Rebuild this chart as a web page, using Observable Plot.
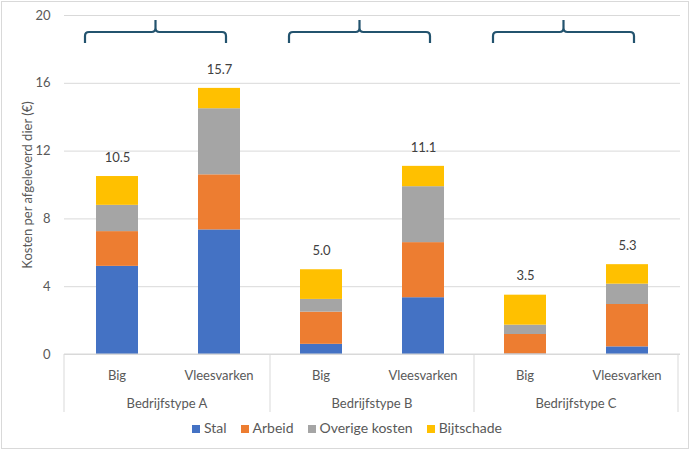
<!DOCTYPE html>
<html><head><meta charset="utf-8">
<script src="https://cdn.jsdelivr.net/npm/d3@7"></script>
<script src="https://cdn.jsdelivr.net/npm/@observablehq/plot@0.6"></script>
<style>
body{margin:0;background:#fff;font-family:Lato,"Open Sans",sans-serif;}
#wrap{position:relative;width:694px;height:454px;}
#frame{position:absolute;left:1px;top:1px;width:688px;height:448px;border:1px solid #d9d9d9;box-sizing:border-box;pointer-events:none;}
#legend{position:absolute;top:419px;left:0;width:694px;display:flex;justify-content:center;gap:14px;font-size:14px;color:#595959;}
#legend span.sw{display:inline-block;width:8px;height:8px;margin-right:4px;}
</style></head>
<body><div id="wrap"><div id="chart"></div><div id="legend"></div><div id="frame"></div></div>
<script>
const groups = ["Bedrijfstype A","Bedrijfstype B","Bedrijfstype C"];
const animals = ["Big","Vleesvarken"];
const series = ["Stal","Arbeid","Overige kosten","Bijtschade"];
const colors = ["#4472c4","#ed7d31","#a5a5a5","#ffc000"];
// values per bar, order: A-Big, A-Vlees, B-Big, B-Vlees, C-Big, C-Vlees
const stal    = [5.2, 7.35, 0.6, 3.35, 0.03, 0.45];
const arbeid  = [2.05, 3.25, 1.9, 3.25, 1.15, 2.5];
const overige = [1.55, 3.9, 0.75, 3.3, 0.55, 1.2];
const bijt    = [1.7, 1.2, 1.75, 1.2, 1.77, 1.15];
const totalLabels = ["10.5","15.7","5.0","11.1","3.5","5.3"];
const yTicks = [0,4,8,12,16,20];

const bars = [];
groups.forEach((g,gi)=>animals.forEach((a,ai)=>bars.push({group:g, animal:a, key:g+"|"+a, i:gi*2+ai})));
const values = [stal, arbeid, overige, bijt];
const long = [];
series.forEach((s,si)=>bars.forEach(b=>long.push({key:b.key, series:s, value:values[si][b.i]})));
const totals = bars.map(b=>({key:b.key, total:values.reduce((t,v)=>t+v[b.i],0), label:totalLabels[b.i]}));

const axisColor = "#d9d9d9", textColor = "#595959";

function categoryAxis(index, scales, vals, dim) {
  const x = scales.x, y = scales.y, bw = x.bandwidth(), step = x.step();
  const g = d3.create("svg:g");
  const y0 = y(0), yEnd = y0 + 58;
  g.append("line").attr("x1", dim.marginLeft).attr("x2", dim.width - dim.marginRight)
    .attr("y1", y0).attr("y2", y0).attr("stroke", axisColor);
  const bounds = [dim.marginLeft];
  groups.forEach(gr=>{
    bounds.push(x(gr+"|"+animals[animals.length-1]) + bw/2 + step/2);
  });
  bounds.forEach(bx=>g.append("line").attr("x1",bx).attr("x2",bx).attr("y1",y0).attr("y2",yEnd).attr("stroke",axisColor));
  bars.forEach(b=>{
    g.append("text").attr("x", x(b.key)+bw/2).attr("y", y0+21).attr("dy","0.35em")
      .attr("text-anchor","middle").attr("fill",textColor).text(b.animal);
  });
  groups.forEach((gr,gi)=>{
    g.append("text").attr("x",(bounds[gi]+bounds[gi+1])/2).attr("y", y0+49).attr("dy","0.35em")
      .attr("text-anchor","middle").attr("fill",textColor).text(gr);
  });
  return g.node();
}

function brackets(index, scales, vals, dim) {
  const x = scales.x, bw = x.bandwidth();
  const g = d3.create("svg:g").attr("fill","none").attr("stroke","#23536e").attr("stroke-width",2.2);
  const yH = dim.marginTop + 17, yEnd = yH + 11, yTip = yH - 12;
  groups.forEach(gr=>{
    const L = x(gr+"|"+animals[0]) - 11;
    const R = x(gr+"|"+animals[1]) + bw - 14;
    const T = (L+R)/2;
    g.append("path").attr("d",
      `M${L},${yEnd} L${L},${yH+4} Q${L},${yH} ${L+4},${yH} L${T-4},${yH} Q${T},${yH} ${T},${yH-4} L${T},${yTip}` +
      ` M${T},${yH-4} Q${T},${yH} ${T+4},${yH} L${R-4},${yH} Q${R},${yH} ${R},${yH+4} L${R},${yEnd}`);
  });
  return g.node();
}

const chart = Plot.plot({
  width: 694, height: 412,
  marginLeft: 64, marginRight: 14, marginTop: 15, marginBottom: 58,
  style: {fontFamily: "Lato, 'Open Sans', sans-serif", fontSize: "13px", color: textColor, background: "transparent"},
  x: {domain: bars.map(b=>b.key), paddingInner: 0.59, paddingOuter: 0.295, axis: null},
  y: {domain: [0,20], ticks: yTicks, label: "Kosten per afgeleverd dier (€)", labelAnchor: "center", labelOffset: 42, labelArrow: "none", tickSize: 0, tickPadding: 14},
  color: {domain: series, range: colors},
  marks: [
    Plot.gridY(yTicks, {stroke: axisColor, strokeOpacity: 1}),
    Plot.barY(long, {x: "key", y: "value", fill: "series"}),
    categoryAxis,
    brackets,
    Plot.text(totals, {x: "key", y: "total", text: "label", dy: -19, fill: "#404040", fontSize: 13})
  ]
});
document.getElementById("chart").appendChild(chart);

const leg = document.getElementById("legend");
series.forEach((s,i)=>{
  const d = document.createElement("div");
  d.innerHTML = `<span class="sw" style="background:${colors[i]}"></span>${s}`;
  leg.appendChild(d);
});
</script></body></html>
